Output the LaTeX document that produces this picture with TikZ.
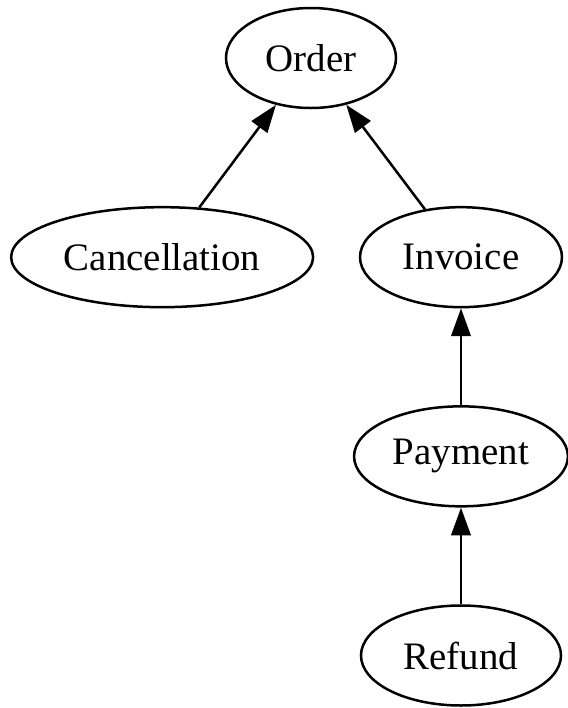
\documentclass[tikz,border=0pt]{standalone}
\usepackage{fontspec}
\setmainfont{Liberation Serif}
\usetikzlibrary{arrows.meta,positioning,shapes.geometric}

\begin{document}
\begin{tikzpicture}[
  node distance=34.8pt,
  entity/.style={draw,ellipse,line width=0.9pt,inner sep=0pt,minimum height=36pt,
    font=\fontsize{14pt}{16pt}\selectfont},
  a/.style={-{Triangle[length=10pt,width=7pt]},line width=0.9pt}
]
\useasboundingbox (-111.96pt,20.88pt) rectangle (92.16pt,-234pt);
\node[entity,minimum width=61.2pt] (order) {Order};
\node[entity,minimum width=108.7pt,below=of order,xshift=-53.6pt] (cancel) {Cancellation};
\node[entity,minimum width=72.7pt,below=of order,xshift=54pt] (invoice) {Invoice};
\node[entity,minimum width=77pt,below=of invoice] (payment) {Payment};
\node[entity,minimum width=72pt,below=of payment] (refund) {Refund};

\draw[a] (cancel) -- (order);
\draw[a] (invoice) -- (order);
\draw[a] (payment) -- (invoice);
\draw[a] (refund) -- (payment);
\end{tikzpicture}
\end{document}
